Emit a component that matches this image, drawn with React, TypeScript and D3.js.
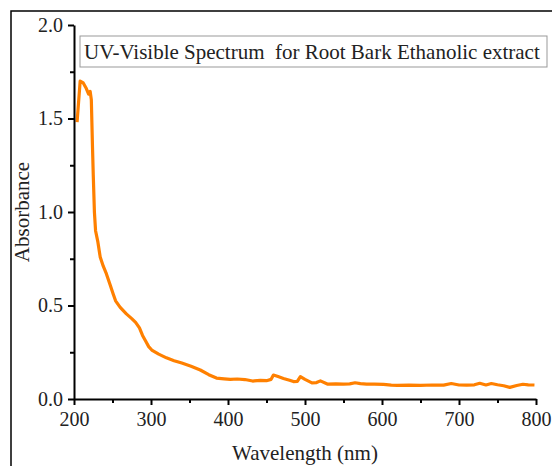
import React, { useEffect, useRef } from "react";
import * as d3 from "d3";

const wavelength = [
  204, 208, 212, 216, 219, 221, 222.5, 224, 225, 226.5, 228, 231, 234, 238, 242, 247, 251, 254,
  260, 268, 275, 280, 285, 289, 293, 297, 301, 310, 320, 330, 340, 352, 364, 375, 385, 395,
  403, 412, 422, 432, 442, 450, 456, 459, 465, 472, 480, 485, 490, 494, 500, 509, 515, 520,
  529, 540, 550, 558, 565, 572, 580, 590, 602, 612, 620, 635, 650, 665, 680, 690, 700, 710,
  720, 727, 735, 742, 750, 758, 766, 775, 783, 790, 798,
];
const absorbance = [
  1.48, 1.7, 1.69, 1.66, 1.63, 1.645, 1.6, 1.35, 1.2, 1.0, 0.9, 0.84, 0.76, 0.71, 0.67, 0.61, 0.56, 0.525,
  0.49, 0.455, 0.43, 0.41, 0.38, 0.34, 0.31, 0.28, 0.262, 0.24, 0.22, 0.205, 0.192, 0.175, 0.155, 0.13, 0.112, 0.108,
  0.105, 0.107, 0.104, 0.096, 0.1, 0.098, 0.105, 0.128, 0.12, 0.11, 0.1, 0.093, 0.094, 0.12, 0.105, 0.086, 0.088, 0.097,
  0.08, 0.081, 0.08, 0.081, 0.087, 0.082, 0.08, 0.08, 0.078, 0.074, 0.073, 0.074, 0.073, 0.075, 0.074, 0.083, 0.075, 0.074,
  0.076, 0.084, 0.075, 0.083, 0.076, 0.071, 0.062, 0.072, 0.079, 0.076, 0.075,
];
const xTicks = [200, 300, 400, 500, 600, 700, 800];
const xMinor = [250, 350, 450, 550, 650, 750];
const yTicks = [0, 0.5, 1.0, 1.5, 2.0];
const yMinor = [0.25, 0.75, 1.25, 1.75];
const title = "UV-Visible Spectrum  for Root Bark Ethanolic extract";

const FONT = '"Liberation Serif", "Times New Roman", serif';

export default function App() {
  const ref = useRef<SVGSVGElement>(null);
  const width = 552;
  const height = 466;
  const margin = { top: 25, left: 74, right: 16, bottom: 67 };

  useEffect(() => {
    const svg = d3.select(ref.current);
    svg.selectAll("*").remove();

    const x = d3.scaleLinear().domain([200, 800]).range([margin.left, width - margin.right]);
    const y = d3.scaleLinear().domain([0, 2.0]).range([height - margin.bottom, margin.top]);

    // outer frame
    svg.append("rect")
      .attr("x", 11).attr("y", 11)
      .attr("width", 600).attr("height", 600)
      .attr("fill", "none").attr("stroke", "#000").attr("stroke-width", 1.5);

    const line = d3.line<number>()
      .x((d, i) => x(wavelength[i]))
      .y((d) => y(d))
      .curve(d3.curveLinear);

    svg.append("path")
      .datum(absorbance)
      .attr("d", line)
      .attr("fill", "none")
      .attr("stroke", "#ff8000")
      .attr("stroke-width", 3.2)
      .attr("stroke-linejoin", "round");

    const styleAxis = (g: any) => {
      g.select(".domain").attr("stroke-width", 2);
      g.selectAll(".tick line").attr("stroke-width", 2);
      g.selectAll(".tick text").attr("font-family", FONT).attr("font-size", 20).attr("fill", "#222");
    };

    svg.append("g")
      .attr("transform", `translate(0,${y(0)})`)
      .call(d3.axisBottom(x).tickValues(xMinor).tickSize(4).tickFormat(() => ""))
      .call((g) => g.select(".domain").remove())
      .call((g) => g.selectAll(".tick line").attr("stroke-width", 2));

    svg.append("g")
      .attr("transform", `translate(${x(200)},0)`)
      .call(d3.axisLeft(y).tickValues(yMinor).tickSize(4).tickFormat(() => ""))
      .call((g) => g.select(".domain").remove())
      .call((g) => g.selectAll(".tick line").attr("stroke-width", 2));

    svg.append("g")
      .attr("transform", `translate(0,${y(0)})`)
      .call(d3.axisBottom(x).tickValues(xTicks).tickSizeInner(6).tickSizeOuter(0).tickPadding(7).tickFormat(d3.format("d")))
      .call(styleAxis);

    svg.append("g")
      .attr("transform", `translate(${x(200)},0)`)
      .call(d3.axisLeft(y).tickValues(yTicks).tickSizeInner(6).tickSizeOuter(0).tickPadding(5).tickFormat(d3.format(".1f")))
      .call(styleAxis);

    // axis titles
    svg.append("text")
      .attr("x", 305).attr("y", 460)
      .attr("text-anchor", "middle")
      .attr("font-family", FONT).attr("font-size", 21).attr("fill", "#222")
      .text("Wavelength (nm)");

    svg.append("text")
      .attr("transform", `translate(29,212) rotate(-90)`)
      .attr("text-anchor", "middle")
      .attr("font-family", FONT).attr("font-size", 21).attr("fill", "#222")
      .text("Absorbance");

    // title box
    svg.append("rect")
      .attr("x", 80).attr("y", 36).attr("width", 467).attr("height", 31)
      .attr("fill", "#fff").attr("stroke", "#999").attr("stroke-width", 1);

    svg.append("text")
      .attr("x", 84).attr("y", 58.5)
      .attr("font-family", FONT).attr("font-size", 21).attr("fill", "#222")
      .style("white-space", "pre")
      .text(title);
  }, []);

  return (
    <div style={{ position: "absolute", left: 0, top: 0 }}>
      <svg ref={ref} width={width} height={height} style={{ display: "block", background: "#fff" }} />
    </div>
  );
}
